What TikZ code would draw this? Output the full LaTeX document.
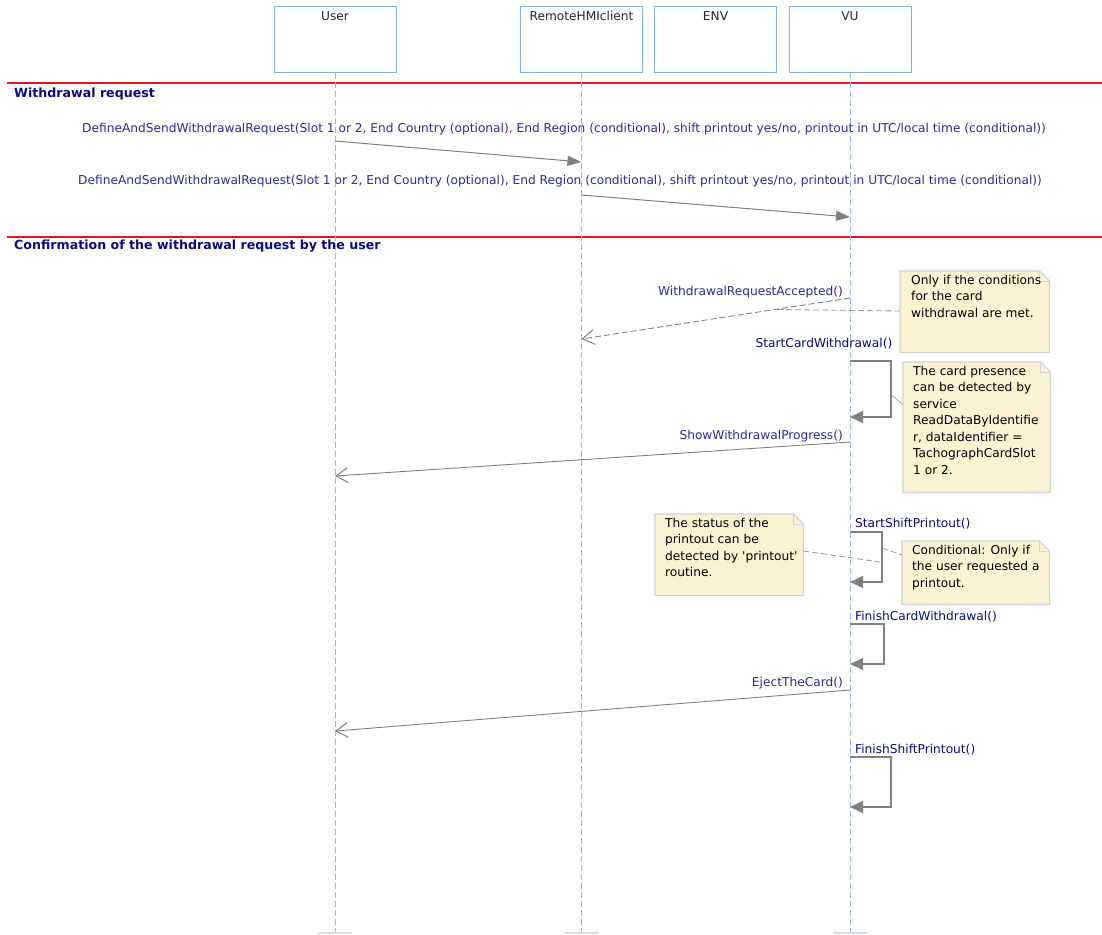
\documentclass[tikz,border=0pt]{standalone}
\usepackage{fontspec}
\setmainfont{DejaVu Sans}
\usetikzlibrary{arrows.meta,calc}
\definecolor{boxblue}{HTML}{7FB0E4}
\definecolor{lifeblue}{HTML}{8EBCEB}
\definecolor{msgtext}{HTML}{2A2A9A}
\definecolor{msgdark}{HTML}{0A0A82}
\definecolor{arrowgray}{HTML}{808080}
\definecolor{notefill}{HTML}{FAF3D3}
\definecolor{noteedge}{HTML}{D2D2D2}
\definecolor{sepred}{HTML}{E8141C}
\definecolor{barg}{HTML}{D5DEE8}
\newcommand{\dognote}[1]{%
  \fill[notefill] (#1.south west) -- (#1.north west) -- ([xshift=-10pt]#1.north east) -- ([yshift=-10pt]#1.north east) -- (#1.south east) -- cycle;
  \draw[noteedge, line width=1.2pt, line join=miter] (#1.south west) -- (#1.north west) -- ([xshift=-10pt]#1.north east) -- ([yshift=-10pt]#1.north east) -- (#1.south east) -- cycle;
  \draw[noteedge, line width=1pt] ([xshift=-10pt]#1.north east) -- ([xshift=-10pt,yshift=-10pt]#1.north east) -- ([yshift=-10pt]#1.north east);
}
\tikzset{
  txt/.style={font=\fontsize{12.2pt}{16.5pt}\selectfont, inner sep=0pt},
  lifebox/.style={draw=boxblue, line width=1pt, minimum width=122pt, minimum height=65pt, inner sep=0pt},
  boxlabel/.style={txt, text=black!85, anchor=north},
  lifeline/.style={draw=lifeblue, line width=1pt, dash pattern=on 6pt off 3pt},
  endbar/.style={fill=barg, minimum width=34pt, minimum height=2.5pt, inner sep=0pt},
  sep/.style={draw=sepred, line width=1.4pt},
  sectitle/.style={font=\fontsize{12.6pt}{15pt}\selectfont\bfseries, text=msgdark, inner sep=0pt, anchor=west},
  msglabel/.style={txt, text=msgtext},
  selflabel/.style={txt, text=msgdark, anchor=west},
  call/.style={draw=arrowgray, line width=1pt, -{Triangle[length=14pt,width=10pt]}, arrowgray},
  reply/.style={draw=arrowgray, line width=0.9pt, -{Straight Barb[length=12pt,width=15pt,line width=1pt]}},
  selfcall/.style={draw=arrowgray, line width=1.6pt, -{Triangle[length=13pt,width=12pt]}, arrowgray},
  notearea/.style={inner sep=0pt, anchor=north west},
  notetext/.style={txt, text=black, align=left, anchor=north west},
  noteconn/.style={draw=arrowgray!80, line width=0.8pt, dash pattern=on 6pt off 3pt},
  noteconnsolid/.style={draw=arrowgray!70, line width=0.8pt}
}
\begin{document}
\begin{tikzpicture}[x=1pt, y=-1pt]
\useasboundingbox (0,0) rectangle (1102,934);
\fill[white] (0,0) rectangle (1102,934);

% separators
\coordinate (r1a) at (7,83);  \coordinate (r1b) at (1102,83);
\coordinate (r2a) at (7,237); \coordinate (r2b) at (1102,237);
\draw[sep] (r1a) -- (r1b);
\draw[sep] (r2a) -- (r2b);
\node[sectitle] (t1) at (14,94) {Withdrawal request};
\node[sectitle] (t2) at (14,246) {Confirmation of the withdrawal request by the user};

% lifeline boxes
\node[lifebox] (user) at (335,39.5) {};
\node[lifebox] (hmi) at (581.5,39.5) {};
\node[lifebox] (env) at (715.5,39.5) {};
\node[lifebox] (vu) at (850,39.5) {};
\node[boxlabel] (userl) at ([yshift=-5pt]user.north) {User};
\node[boxlabel] (hmil) at ([yshift=-5pt]hmi.north) {RemoteHMIclient};
\node[boxlabel] (envl) at ([yshift=-5pt]env.north) {ENV};
\node[boxlabel] (vul) at ([yshift=-5pt]vu.north) {VU};

% lifelines
\node[endbar] (userend) at (335,933) {};
\node[endbar] (hmiend) at (581.5,933) {};
\node[endbar] (vuend) at (850,933) {};
\draw[lifeline] (user.south) -- (userend.north);
\draw[lifeline] (hmi.south) -- (hmiend.north);
\draw[lifeline] (vu.south) -- (vuend.north);

% message 1
\coordinate (m1s) at (335,141); \coordinate (m1e) at (581.5,162);
\node[msglabel] (l1) at (564,129) {DefineAndSendWithdrawalRequest(Slot 1 or 2, End Country (optional), End Region (conditional), shift printout yes/no, printout in UTC/local time (conditional))};
\draw[call] (m1s) -- (m1e);

% message 2
\coordinate (m2s) at (581.5,195); \coordinate (m2e) at (850,217);
\node[msglabel] (l2) at (560,181) {DefineAndSendWithdrawalRequest(Slot 1 or 2, End Country (optional), End Region (conditional), shift printout yes/no, printout in UTC/local time (conditional))};
\draw[call] (m2s) -- (m2e);

% message 3 (reply)
\coordinate (m3s) at (850,298); \coordinate (m3e) at (581.5,339);
\node[msglabel, anchor=east] (l3) at (843,292) {WithdrawalRequestAccepted()};
\draw[reply, dash pattern=on 6pt off 3pt] (m3s) -- (m3e);

% note 1
\node[notearea, minimum width=149pt, minimum height=81pt] (n1) at (900,271) {};
\dognote{n1}
\node[notetext] (n1t) at ([xshift=11pt,yshift=-4pt]n1.north west) {Only if the conditions\\for the card\\withdrawal are met.};
\coordinate (n1c) at ($(m3s)!0.28!(m3e)$);
\draw[noteconn] (n1.west |- 0,311) -- (n1c);

% self call: StartCardWithdrawal
\coordinate (s1a) at (850,361); \coordinate (s1b) at (850,417);
\node[txt, text=msgdark] (l4) at (824,344) {StartCardWithdrawal()};
\draw[selfcall] (s1a) -- ++(41,0) |- (s1b);

% note 2
\node[notearea, minimum width=147pt, minimum height=130pt] (n2) at (903,362) {};
\dognote{n2}
\node[notetext] (n2t) at ([xshift=10pt,yshift=-4pt]n2.north west) {The card presence\\can be detected by\\service\\ReadDataByIdentifie\\r, dataIdentifier =\\TachographCardSlot\\1 or 2.};
\coordinate (n2c) at (891.5,395);
\draw[noteconnsolid] (n2c) -- (n2.west |- 0,405);

% message 5
\coordinate (m5s) at (850,442); \coordinate (m5e) at (335,476);
\node[msglabel, anchor=east] (l5) at (843,436) {ShowWithdrawalProgress()};
\draw[reply] (m5s) -- (m5e);

% self call: StartShiftPrintout
\coordinate (s2a) at (850,532); \coordinate (s2b) at (850,582);
\node[selflabel] (l6) at (855,524) {StartShiftPrintout()};
\draw[selfcall] (s2a) -- ++(32,0) |- (s2b);

% note 3
\node[notearea, minimum width=148pt, minimum height=81pt] (n3) at (655,514) {};
\dognote{n3}
\node[notetext] (n3t) at ([xshift=10pt,yshift=-4pt]n3.north west) {The status of the\\printout can be\\detected by \textquotesingle printout\textquotesingle\\routine.};
\coordinate (n3c) at (880,562);
\draw[noteconn] (n3.east |- 0,551) -- (n3c);

% note 4
\node[notearea, minimum width=147pt, minimum height=63pt] (n4) at (902,541) {};
\dognote{n4}
\node[notetext] (n4t) at ([xshift=10pt,yshift=-4pt]n4.north west) {Conditional: Only if\\the user requested a\\printout.};
\coordinate (n4c) at (882,548);
\draw[noteconn] (n4c) -- (n4.west |- 0,555);

% self call: FinishCardWithdrawal
\coordinate (s3a) at (850,624); \coordinate (s3b) at (850,664);
\node[selflabel] (l7) at (855,617) {FinishCardWithdrawal()};
\draw[selfcall] (s3a) -- ++(34,0) |- (s3b);

% message: EjectTheCard
\coordinate (m8s) at (850,690); \coordinate (m8e) at (335,731);
\node[msglabel, anchor=east] (l8) at (843,683) {EjectTheCard()};
\draw[reply] (m8s) -- (m8e);

% self call: FinishShiftPrintout
\coordinate (s4a) at (850,757); \coordinate (s4b) at (850,807);
\node[selflabel] (l9) at (855,750) {FinishShiftPrintout()};
\draw[selfcall] (s4a) -- ++(41,0) |- (s4b);
\end{tikzpicture}
\end{document}
